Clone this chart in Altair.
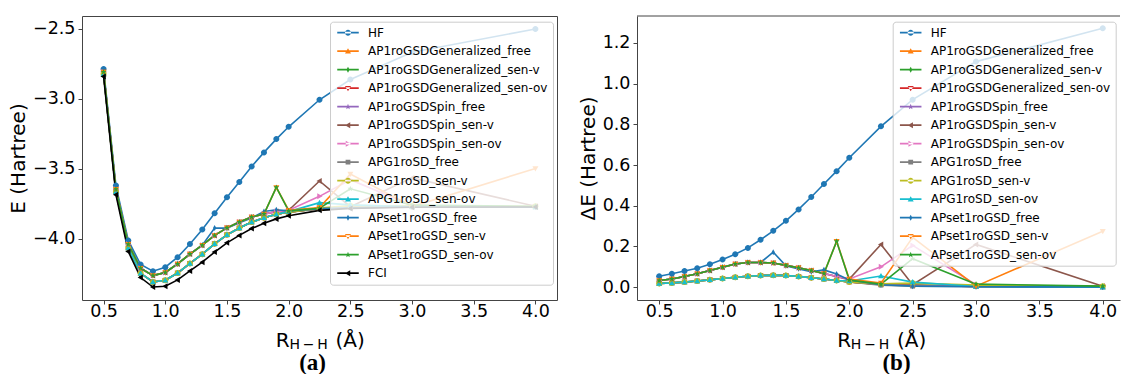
import math

import altair as alt
import pandas as pd

# H-H distance grid (Angstrom)
R_HH = [0.5, 0.6, 0.7, 0.8, 0.9, 1.0, 1.1, 1.2, 1.3, 1.4, 1.5, 1.6, 1.7, 1.8, 1.9, 2.0, 2.25, 2.5, 3.0, 4.0]
X_TICKS = [0.5, 1.0, 1.5, 2.0, 2.5, 3.0, 3.5, 4.0]
E_TICKS = [-2.5, -3.0, -3.5, -4.0]
DE_TICKS = [0.0, 0.2, 0.4, 0.6, 0.8, 1.0, 1.2]

METHODS = [
    "HF",
    "AP1roGSDGeneralized_free",
    "AP1roGSDGeneralized_sen-v",
    "AP1roGSDGeneralized_sen-ov",
    "AP1roGSDSpin_free",
    "AP1roGSDSpin_sen-v",
    "AP1roGSDSpin_sen-ov",
    "APG1roSD_free",
    "APG1roSD_sen-v",
    "APG1roSD_sen-ov",
    "APset1roGSD_free",
    "APset1roGSD_sen-v",
    "APset1roGSD_sen-ov",
]
REFERENCE = "FCI"

# total energies (Hartree)
E_HF = [-2.786, -3.619, -4.011, -4.183, -4.231, -4.202, -4.131, -4.036, -3.933, -3.817, -3.702, -3.593, -3.483, -3.382, -3.287, -3.199, -3.006, -2.861, -2.666, -2.500]
E_GEN_FREE = [-2.822, -3.664, -4.065, -4.246, -4.308, -4.295, -4.244, -4.175, -4.109, -4.035, -3.971, -3.922, -3.880, -3.849, -3.824, -3.809, -3.784, -3.774, -3.771, -3.771]
E_GEN_SENV = [-2.822, -3.664, -4.065, -4.246, -4.308, -4.295, -4.244, -4.175, -4.109, -4.035, -3.971, -3.922, -3.880, -3.849, -3.824, -3.809, -3.782, -3.772, -3.770, -3.770]
E_GEN_SENOV = [-2.822, -3.664, -4.065, -4.246, -4.308, -4.295, -4.244, -4.175, -4.109, -4.035, -3.971, -3.922, -3.880, -3.849, -3.824, -3.809, -3.783, -3.773, -3.770, -3.771]
E_SPIN_FREE = [-2.807, -3.645, -4.038, -4.210, -4.262, -4.240, -4.179, -4.108, -4.045, -3.975, -3.921, -3.880, -3.844, -3.822, -3.805, -3.799, -3.784, -3.774, -3.770, -3.770]
E_SPIN_SENV = [-2.807, -3.645, -4.038, -4.210, -4.262, -4.240, -4.179, -4.108, -4.045, -3.975, -3.921, -3.880, -3.844, -3.822, -3.805, -3.795, -3.586, -3.770, -3.564, -3.767]
E_SPIN_SENOV = [-2.807, -3.645, -4.038, -4.210, -4.262, -4.240, -4.179, -4.108, -4.045, -3.975, -3.921, -3.880, -3.844, -3.822, -3.805, -3.795, -3.696, -3.577, -3.762, -3.770]
E_APG_FREE = [-2.822, -3.664, -4.065, -4.246, -4.308, -4.295, -4.244, -4.175, -4.109, -4.035, -3.971, -3.922, -3.880, -3.849, -3.824, -3.809, -3.786, -3.777, -3.771, -3.770]
E_APG_SENV = [-2.822, -3.664, -4.065, -4.246, -4.308, -4.295, -4.244, -4.175, -4.109, -4.035, -3.971, -3.922, -3.880, -3.849, -3.824, -3.809, -3.780, -3.762, -3.764, -3.767]
E_APG_SENOV = [-2.822, -3.664, -4.065, -4.246, -4.308, -4.295, -4.244, -4.175, -4.109, -4.035, -3.971, -3.922, -3.880, -3.849, -3.824, -3.805, -3.741, -3.757, -3.771, -3.772]
E_SET_FREE = [-2.807, -3.645, -4.038, -4.210, -4.262, -4.240, -4.179, -4.108, -4.045, -3.922, -3.923, -3.885, -3.850, -3.804, -3.792, -3.800, -3.784, -3.777, -3.772, -3.771]
E_SET_SENV = [-2.807, -3.645, -4.038, -4.210, -4.262, -4.240, -4.179, -4.108, -4.045, -3.975, -3.921, -3.880, -3.844, -3.822, -3.632, -3.795, -3.776, -3.537, -3.769, -3.497]
E_SET_SENOV = [-2.807, -3.645, -4.038, -4.210, -4.262, -4.240, -4.179, -4.108, -4.045, -3.975, -3.921, -3.880, -3.844, -3.822, -3.632, -3.800, -3.781, -3.642, -3.759, -3.767]
E_FCI = [-2.840, -3.685, -4.090, -4.276, -4.344, -4.338, -4.293, -4.229, -4.166, -4.094, -4.028, -3.975, -3.926, -3.889, -3.857, -3.835, -3.796, -3.782, -3.774, -3.772]

# errors with respect to FCI (Hartree)
DE_HF = [0.054, 0.066, 0.079, 0.093, 0.113, 0.136, 0.162, 0.193, 0.233, 0.277, 0.326, 0.382, 0.443, 0.507, 0.570, 0.636, 0.790, 0.921, 1.108, 1.272]
DE_GEN_FREE = [0.018, 0.021, 0.025, 0.030, 0.036, 0.043, 0.049, 0.054, 0.057, 0.059, 0.057, 0.053, 0.046, 0.040, 0.033, 0.026, 0.012, 0.008, 0.003, 0.001]
DE_GEN_SENV = [0.018, 0.021, 0.025, 0.030, 0.036, 0.043, 0.049, 0.054, 0.057, 0.059, 0.057, 0.053, 0.046, 0.040, 0.033, 0.026, 0.014, 0.010, 0.004, 0.002]
DE_GEN_SENOV = [0.018, 0.021, 0.025, 0.030, 0.036, 0.043, 0.049, 0.054, 0.057, 0.059, 0.057, 0.053, 0.046, 0.040, 0.033, 0.026, 0.013, 0.009, 0.004, 0.001]
DE_SPIN_FREE = [0.033, 0.040, 0.052, 0.066, 0.082, 0.098, 0.114, 0.121, 0.121, 0.119, 0.107, 0.095, 0.082, 0.067, 0.052, 0.036, 0.012, 0.008, 0.004, 0.002]
DE_SPIN_SENV = [0.033, 0.040, 0.052, 0.066, 0.082, 0.098, 0.114, 0.121, 0.121, 0.119, 0.107, 0.095, 0.082, 0.067, 0.052, 0.040, 0.210, 0.012, 0.210, 0.005]
DE_SPIN_SENOV = [0.033, 0.040, 0.052, 0.066, 0.082, 0.098, 0.114, 0.121, 0.121, 0.119, 0.107, 0.095, 0.082, 0.067, 0.052, 0.040, 0.100, 0.205, 0.012, 0.002]
DE_APG_FREE = [0.018, 0.021, 0.025, 0.030, 0.036, 0.043, 0.049, 0.054, 0.057, 0.059, 0.057, 0.053, 0.046, 0.040, 0.033, 0.026, 0.010, 0.005, 0.003, 0.002]
DE_APG_SENV = [0.018, 0.021, 0.025, 0.030, 0.036, 0.043, 0.049, 0.054, 0.057, 0.059, 0.057, 0.053, 0.046, 0.040, 0.033, 0.026, 0.016, 0.020, 0.010, 0.005]
DE_APG_SENOV = [0.018, 0.021, 0.025, 0.030, 0.036, 0.043, 0.049, 0.054, 0.057, 0.059, 0.057, 0.053, 0.046, 0.040, 0.033, 0.030, 0.055, 0.025, 0.003, 0.000]
DE_SET_FREE = [0.033, 0.040, 0.052, 0.066, 0.082, 0.098, 0.114, 0.121, 0.121, 0.172, 0.105, 0.090, 0.076, 0.085, 0.065, 0.035, 0.012, 0.005, 0.002, 0.001]
DE_SET_SENV = [0.033, 0.040, 0.052, 0.066, 0.082, 0.098, 0.114, 0.121, 0.121, 0.119, 0.107, 0.095, 0.082, 0.067, 0.225, 0.040, 0.020, 0.245, 0.005, 0.275]
DE_SET_SENOV = [0.033, 0.040, 0.052, 0.066, 0.082, 0.098, 0.114, 0.121, 0.121, 0.119, 0.107, 0.095, 0.082, 0.067, 0.225, 0.035, 0.015, 0.140, 0.015, 0.005]

ENERGIES = [E_HF, E_GEN_FREE, E_GEN_SENV, E_GEN_SENOV, E_SPIN_FREE, E_SPIN_SENV, E_SPIN_SENOV,
            E_APG_FREE, E_APG_SENV, E_APG_SENOV, E_SET_FREE, E_SET_SENV, E_SET_SENOV, E_FCI]
ERRORS = [DE_HF, DE_GEN_FREE, DE_GEN_SENV, DE_GEN_SENOV, DE_SPIN_FREE, DE_SPIN_SENV, DE_SPIN_SENOV,
          DE_APG_FREE, DE_APG_SENV, DE_APG_SENOV, DE_SET_FREE, DE_SET_SENV, DE_SET_SENOV]

TAB10 = ["#1f77b4", "#ff7f0e", "#2ca02c", "#d62728", "#9467bd", "#8c564b", "#e377c2",
         "#7f7f7f", "#bcbd22", "#17becf", "#1f77b4", "#ff7f0e", "#2ca02c", "#000000"]
MARKER_KEYS = ["o", "^", "d", "v", "*", "<", ">", "s", "o", "^", "d", "v", "*", "<"]


# ---- marker outlines as SVG paths in the unit square ----
def _star():
    pts = []
    for i in range(10):
        rad = 1.0 if i % 2 == 0 else 0.42
        a = -math.pi / 2 + i * math.pi / 5
        pts.append((rad * math.cos(a), rad * math.sin(a)))
    return pts


POLYS = {
    "^": [(0, -1), (1, 0.75), (-1, 0.75)],
    "v": [(0, 1), (1, -0.75), (-1, -0.75)],
    "<": [(-1, 0), (0.75, -1), (0.75, 1)],
    ">": [(1, 0), (-0.75, -1), (-0.75, 1)],
    "d": [(0, -1), (0.55, 0), (0, 1), (-0.55, 0)],
    "s": [(-0.8, -0.8), (0.8, -0.8), (0.8, 0.8), (-0.8, 0.8)],
    "*": _star(),
}


def marker_path(key, k=1.0):
    if key == "o":
        return f"M{-k:.3f},0A{k:.3f},{k:.3f} 0 1,0 {k:.3f},0A{k:.3f},{k:.3f} 0 1,0 {-k:.3f},0Z"
    return "M" + "L".join(f"{k * x:.3f},{k * y:.3f}" for x, y in POLYS[key]) + "Z"


# legend glyph: a short line segment with the marker on it
LEG_HALF_LEN = 2.69
LEG_HALF_THICK = 0.22


def legend_path(key):
    bar = (f"M{-LEG_HALF_LEN},{-LEG_HALF_THICK}H{LEG_HALF_LEN}"
           f"V{LEG_HALF_THICK}H{-LEG_HALF_LEN}Z")
    return bar + marker_path(key, 0.75)


def long_table(names, series, field):
    rows = []
    for name, vals in zip(names, series):
        for r, v in zip(R_HH, vals):
            rows.append({"R": r, "method": name, field: v})
    return pd.DataFrame(rows)


FONT = "DejaVu Sans"
FRAME = "#444444"
H = 284


def single(text, **kw):
    return alt.Chart(pd.DataFrame({"t": [text]})).mark_text(text=text, **kw)


def panel(df, field, names, ydomain, yticks, ytitle, width, xdomain, legend_x, caption, caption_x,
          framed=True):
    n = len(names)
    colors = TAB10[:n] if n == 14 else TAB10[:13]
    keys = MARKER_KEYS[:n]
    x = alt.X("R:Q", scale=alt.Scale(domain=xdomain, nice=False, zero=False),
              axis=alt.Axis(values=X_TICKS, format=".1f", title=None, grid=False, labelPadding=-2,
                            domain=not framed, domainColor=FRAME))
    y = alt.Y(f"{field}:Q", scale=alt.Scale(domain=ydomain, nice=False, zero=False),
              axis=alt.Axis(values=yticks, format=".1f", title=ytitle, grid=False,
                            domain=not framed, domainColor=FRAME))
    cscale = alt.Scale(domain=names, range=colors)
    base = alt.Chart(df)

    lines = base.mark_line(strokeWidth=1.6).encode(
        x=x, y=y, color=alt.Color("method:N", scale=cscale, legend=None))
    points = base.mark_point(filled=True, opacity=1, size=36, strokeWidth=0).encode(
        x=x, y=y,
        color=alt.Color("method:N", scale=cscale, legend=None),
        shape=alt.Shape("method:N", scale=alt.Scale(domain=names, range=[marker_path(k) for k in keys]),
                        legend=None))
    leg = alt.Legend(title=None, orient="none", legendX=legend_x, legendY=5.7)
    legend_layer = base.transform_filter("datum.R < 0").mark_point(
        filled=True, opacity=1, size=64, strokeWidth=0).encode(
        x=x, y=y,
        color=alt.Color("method:N", scale=cscale, legend=leg),
        shape=alt.Shape("method:N", scale=alt.Scale(domain=names, range=[legend_path(k) for k in keys]),
                        legend=leg))

    # x-axis title R_{H-H} (Å) and the panel caption
    c = (0.5 * (xdomain[0] + 4.175) - xdomain[0]) / (xdomain[1] - xdomain[0]) * width
    t_r = single("R", font=FONT, fontSize=20, align="left", baseline="alphabetic", color="#000").encode(
        x=alt.value(c - 43.8), y=alt.value(H + 47.2))
    t_sub = single("H\u2009\u2212\u2009H", font=FONT, fontSize=14, align="left", baseline="alphabetic",
                   color="#000").encode(x=alt.value(c - 30.1), y=alt.value(H + 48.6))
    t_ang = single("(Å)", font=FONT, fontSize=20, align="left", baseline="alphabetic", color="#000").encode(
        x=alt.value(c + 16.0), y=alt.value(H + 47.2))
    t_cap = single(caption, font="Liberation Serif", fontSize=23, fontWeight="bold", align="center",
                   baseline="alphabetic", color="#000").encode(x=alt.value(caption_x), y=alt.value(H + 69.5))

    layers = [lines, points, legend_layer, t_r, t_sub, t_ang, t_cap]
    kwargs = {}
    if not framed:
        top = alt.Chart(pd.DataFrame({"t": [0]})).mark_rule(color=FRAME, strokeWidth=1).encode(
            x=alt.value(0), x2=alt.value(width), y=alt.value(0))
        layers.append(top)
        kwargs["view"] = alt.ViewBackground(stroke="transparent")
    return alt.layer(*layers, **kwargs).properties(width=width, height=H).resolve_scale(
        color="independent", shape="independent")


energy_df = long_table(METHODS + [REFERENCE], ENERGIES, "E")
error_df = long_table(METHODS, ERRORS, "dE")

left = panel(energy_df, "E", METHODS + [REFERENCE], [-4.4365, -2.4075], E_TICKS, "E (Hartree)",
             475, [0.325, 4.175], 248, "(a)", 230.6)
right = panel(error_df, "dE", METHODS, [-0.063, 1.332], DE_TICKS, "ΔE (Hartree)",
              483, [0.325, 4.136], 255.7, "(b)", 259.5, framed=False)

chart = alt.hconcat(left, right, spacing=80, bounds="flush").resolve_scale(
    x="independent", y="independent", color="independent", shape="independent"
).properties(
    padding={"left": 8, "top": 15, "right": 0, "bottom": 0}
).configure_view(
    stroke=FRAME, strokeWidth=1
).configure_axis(
    labelFont=FONT, labelFontSize=17.5, labelColor="#000000", labelPadding=3,
    tickSize=4, tickColor=FRAME, tickWidth=1,
    titleFont=FONT, titleFontSize=20, titleFontWeight="normal", titleColor="#000000", titlePadding=4,
).configure_legend(
    padding=5, fillColor="rgba(255,255,255,0.8)", strokeColor="#cccccc", strokeWidth=1, cornerRadius=3,
    labelFont=FONT, labelFontSize=12, labelColor="#000000", labelLimit=400,
    symbolSize=64, symbolStrokeWidth=0, symbolOffset=7, labelOffset=14, rowPadding=6.5,
)

chart.save("out.html", embed_options={"renderer": "svg", "actions": False})
